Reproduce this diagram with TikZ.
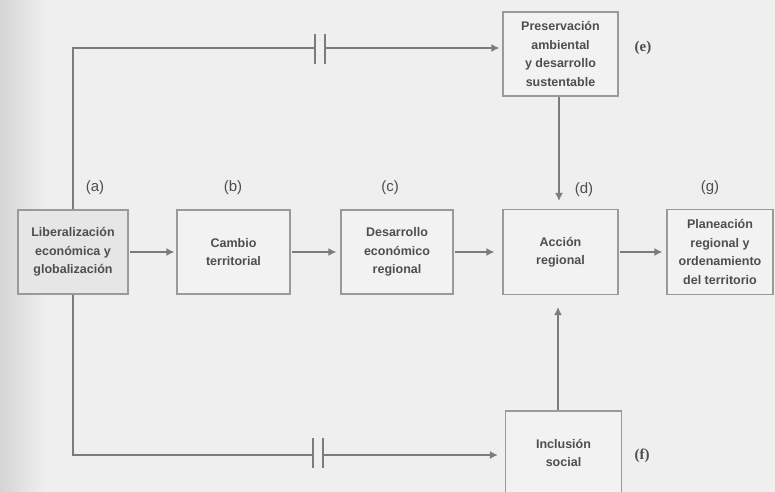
\documentclass[tikz,border=0pt]{standalone}
\usepackage{fontspec}
\setmainfont{Liberation Sans}
\newfontfamily\serifface{Liberation Serif}
\usetikzlibrary{arrows.meta}
\definecolor{paper}{HTML}{EFEFEF}
\definecolor{paperdark}{HTML}{D2D2D2}
\definecolor{ink}{HTML}{4E4E4E}
\definecolor{rulegray}{HTML}{7C7C7C}
\definecolor{framegray}{HTML}{9A9A9A}
\definecolor{boxfill}{HTML}{F2F2F2}
\definecolor{boxfilldark}{HTML}{E6E6E6}

\tikzset{
  box/.style={draw=framegray, line width=1.1pt, fill=boxfill, text=ink,
    font=\bfseries\fontsize{12.5}{18.5}\selectfont, align=center, inner sep=0pt},
  link/.style={draw=rulegray, line width=2.3pt},
  flow/.style={link, -{Latex[length=8pt,width=8pt]}},
  tag/.style={text=ink, font=\fontsize{15}{17}\selectfont, inner sep=0pt},
  serif tag/.style={tag, font=\serifface\bfseries\fontsize{15}{17}\selectfont},
  brk/.style={draw=rulegray, line width=2.2pt}
}

\begin{document}
\begin{tikzpicture}[x=1pt,y=-1pt]
  % page
  \useasboundingbox (0,0) rectangle (775,491);
  \clip (0,0) rectangle (775,491);
  \fill[paper] (-5,-5) rectangle (780,496);
  \shade[left color=paperdark, right color=paper] (-5,-5) rectangle (45,496);

  % boxes
  \node[box, fill=boxfilldark, minimum width=110pt, minimum height=84pt] (a) at (73,252)
    {Liberalización\\económica y\\globalización};
  \node[box, minimum width=113pt, minimum height=84pt] (b) at (233.5,252)
    {Cambio\\territorial};
  \node[box, minimum width=112pt, minimum height=84pt] (c) at (397,252)
    {Desarrollo\\económico\\regional};
  \node[box, minimum width=115pt, minimum height=85pt] (d) at (560.5,252)
    {Acción\\regional};
  \node[box, minimum width=106pt, minimum height=85pt] (g) at (720,252)
    {Planeación\\regional y\\ordenamiento\\del territorio};
  \node[box, minimum width=115pt, minimum height=84pt] (e) at (560.5,54)
    {Preservación\\ambiental\\y desarrollo\\sustentable};
  \node[box, minimum width=116pt, minimum height=84pt] (f) at (563.5,453)
    {Inclusión\\social};

  % letters
  \node[tag] (la) at (95,188) {(a)};
  \node[tag] (lb) at (233,188) {(b)};
  \node[tag] (lc) at (390,188) {(c)};
  \node[tag] (ld) at (584,190) {(d)};
  \node[tag] (lg) at (710,188) {(g)};
  \node[serif tag] (le) at (643,48) {(e)};
  \node[serif tag] (lf) at (642,456) {(f)};

  % main chain
  \draw[flow, shorten <=1pt, shorten >=2pt] (a) -- (b);
  \draw[flow, shorten <=1pt, shorten >=4pt] (b) -- (c);
  \draw[flow, shorten <=1pt, shorten >=8pt] (c) -- (d);
  \draw[flow, shorten <=1pt, shorten >=4pt] (d) -- (g);

  % upper branch with interruption
  \coordinate (t1) at (315,48);
  \coordinate (t2) at (325,48);
  \draw[link] (a.north) |- (t1);
  \draw[flow, shorten >=3pt] (t2) -- (t2 -| e.west);
  \draw[brk] ([yshift=14pt]t1) -- ([yshift=-16pt]t1);
  \draw[brk] ([yshift=14pt]t2) -- ([yshift=-16pt]t2);

  % lower branch with interruption
  \coordinate (b1) at (313,455);
  \coordinate (b2) at (323,455);
  \draw[link] (a.south) |- (b1);
  \draw[flow, shorten >=7pt] (b2) -- (b2 -| f.west);
  \draw[brk] ([yshift=17pt]b1) -- ([yshift=-13pt]b1);
  \draw[brk] ([yshift=17pt]b2) -- ([yshift=-13pt]b2);

  % vertical feeds into regional action
  \draw[flow, shorten >=8pt] (e.south -| 559,0) -- (d.north -| 559,0);
  \draw[flow, shorten >=12pt] (f.north -| 558,0) -- (d.south -| 558,0);
\end{tikzpicture}
\end{document}
